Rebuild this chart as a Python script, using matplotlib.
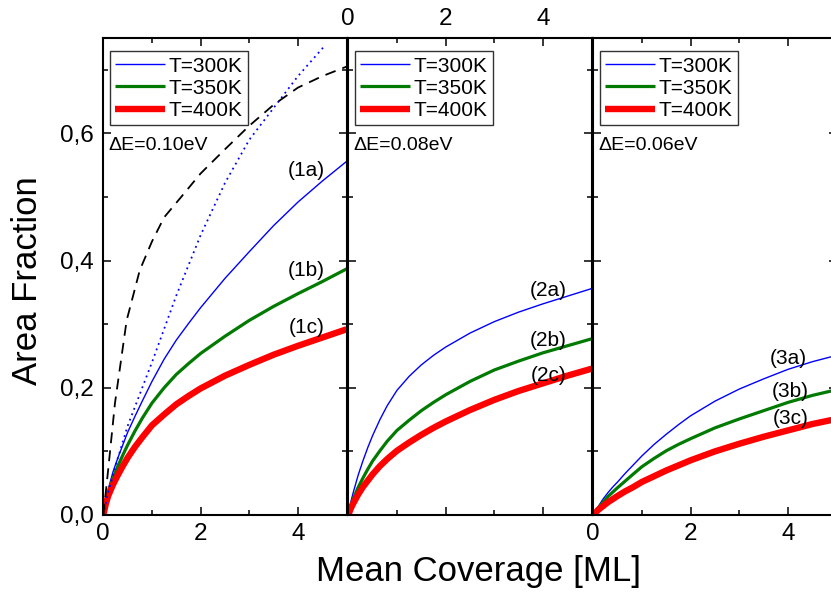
import matplotlib
matplotlib.use("Agg")
from matplotlib import pyplot as plt
from matplotlib.ticker import MultipleLocator, FuncFormatter, NullFormatter

plt.rcParams['font.family'] = ['Liberation Sans', 'DejaVu Sans']

# coverage grid [ML]
x = [0, 0.05, 0.1, 0.2, 0.3, 0.4, 0.5, 0.65, 0.8, 1, 1.25, 1.5, 1.75, 2, 2.5, 3, 3.5, 4, 4.5, 5]

# panel 1, dE = 0.10 eV
a1 = [0, 0.022, 0.04, 0.068, 0.09, 0.11, 0.13, 0.155, 0.179, 0.21, 0.245, 0.275, 0.301, 0.326,
      0.372, 0.414, 0.455, 0.492, 0.525, 0.556]
b1 = [0, 0.019, 0.035, 0.058, 0.077, 0.094, 0.11, 0.132, 0.152, 0.176, 0.2, 0.221, 0.238, 0.254,
      0.281, 0.306, 0.328, 0.348, 0.367, 0.387]
c1 = [0, 0.017, 0.03, 0.048, 0.063, 0.077, 0.09, 0.107, 0.122, 0.141, 0.158, 0.174, 0.187, 0.199,
      0.219, 0.236, 0.252, 0.266, 0.279, 0.292]
x_dot = [0, 0.05, 0.1, 0.25, 0.5, 0.75, 1, 1.5, 2, 2.5, 3, 3.5, 4, 4.53]
y_dot = [0, 0.018, 0.035, 0.077, 0.14, 0.19, 0.24, 0.345, 0.44, 0.522, 0.59, 0.64, 0.69, 0.736]
x_dash = [0, 0.05, 0.1, 0.24, 0.48, 0.75, 1.0, 1.25, 1.6, 2.0, 2.5, 3.0, 3.5, 4.0, 4.5, 5.0]
y_dash = [0, 0.035, 0.071, 0.176, 0.306, 0.385, 0.43, 0.468, 0.5, 0.537, 0.575, 0.612, 0.645,
          0.672, 0.69, 0.705]

# panel 2, dE = 0.08 eV
a2 = [0, 0.02, 0.035, 0.062, 0.085, 0.106, 0.125, 0.15, 0.172, 0.196, 0.218, 0.236, 0.251, 0.264,
      0.286, 0.304, 0.319, 0.332, 0.344, 0.356]
b2 = [0, 0.014, 0.025, 0.043, 0.058, 0.072, 0.085, 0.101, 0.116, 0.133, 0.149, 0.164, 0.177, 0.189,
      0.21, 0.228, 0.242, 0.255, 0.266, 0.277]
c2 = [0, 0.01, 0.018, 0.032, 0.044, 0.054, 0.064, 0.077, 0.088, 0.101, 0.114, 0.126, 0.137, 0.147,
      0.165, 0.181, 0.195, 0.207, 0.219, 0.230]

# panel 3, dE = 0.06 eV
a3 = [0, 0.007, 0.013, 0.025, 0.035, 0.044, 0.052, 0.065, 0.077, 0.093, 0.111, 0.127, 0.142, 0.156,
      0.179, 0.198, 0.214, 0.229, 0.241, 0.251]
b3 = [0, 0.006, 0.011, 0.02, 0.029, 0.036, 0.043, 0.053, 0.063, 0.076, 0.089, 0.101, 0.111, 0.12,
      0.137, 0.151, 0.164, 0.177, 0.188, 0.197]
c3 = [0, 0.004, 0.008, 0.014, 0.02, 0.025, 0.03, 0.037, 0.043, 0.052, 0.061, 0.07, 0.078, 0.086,
      0.1, 0.112, 0.123, 0.133, 0.143, 0.151]

temps = ["T=300K", "T=350K", "T=400K"]
energies = ["\u0394E=0.10eV", "\u0394E=0.08eV", "\u0394E=0.06eV"]
curve_labels = [["(1a)", "(1b)", "(1c)"], ["(2a)", "(2b)", "(2c)"], ["(3a)", "(3b)", "(3c)"]]
label_pos = [[(4.17, 0.542), (4.17, 0.385), (4.17, 0.295)],
             [(4.11, 0.353), (4.11, 0.275), (4.11, 0.220)],
             [(4.00, 0.246), (4.05, 0.194), (4.05, 0.152)]]
series = [(a1, b1, c1), (a2, b2, c2), (a3, b3, c3)]

colors = ["#0000ff", "#007a00", "#ff0000"]
widths = [1.0, 2.3, 4.6]

fig = plt.figure(figsize=(8.31, 5.92), dpi=100)
lefts = [103.3 / 831, 348.3 / 831, 593.3 / 831]
w = 243.3 / 831
b = 77 / 592
h = 477 / 592
comma = FuncFormatter(lambda v, p: f"{v:.1f}".replace('.', ','))

for i in range(3):
    ax = fig.add_axes([lefts[i], b, w, h])
    for ys, c, lw, t in zip(series[i], colors, widths, temps):
        ax.plot(x, ys, color=c, lw=lw, label=t, solid_capstyle='butt',
                solid_joinstyle='round')
    if i == 0:
        ax.plot(x_dot, y_dot, color="#0000ff", lw=1.3, ls=(0, (1, 2.2)))
        ax.plot(x_dash, y_dash, color="black", lw=1.3, ls=(0, (6, 4)))
    for lab, (lx, ly) in zip(curve_labels[i], label_pos[i]):
        ax.text(lx, ly, lab, fontsize=15, ha='center', va='center')
    ax.text(0.02, 0.775, energies[i], transform=ax.transAxes, fontsize=14,
            ha='left', va='center')
    ax.legend(loc='upper left', bbox_to_anchor=(0.0, 0.985), fontsize=15,
              frameon=True, fancybox=False, framealpha=1, edgecolor='#333333',
              handlelength=2.4, handletextpad=0.2, labelspacing=0.15,
              borderpad=0.25, borderaxespad=0.3)

    ax.set_xlim(0, 5)
    ax.set_ylim(0, 0.75)
    ax.xaxis.set_major_locator(MultipleLocator(2))
    ax.xaxis.set_minor_locator(MultipleLocator(1))
    ax.yaxis.set_major_locator(MultipleLocator(0.2))
    ax.yaxis.set_minor_locator(MultipleLocator(0.1))
    ax.tick_params(which='both', direction='in', top=True, right=True,
                   width=1.1, labelsize=17.5)
    ax.tick_params(which='major', length=6)
    ax.tick_params(which='minor', length=3.6)
    ax.tick_params(axis='x', pad=6)
    ax.tick_params(axis='y', pad=7)
    for s in ax.spines.values():
        s.set_linewidth(1.5)

    if i == 0:
        ax.yaxis.set_major_formatter(comma)
    else:
        ax.yaxis.set_major_formatter(NullFormatter())
    if i == 1:
        ax.tick_params(axis='x', labelbottom=False, labeltop=True)

fig.text(478 / 831, 20 / 592, "Mean Coverage [ML]", fontsize=25,
         ha='center', va='center')
fig.text(28 / 831, 311 / 592, "Area Fraction", fontsize=25, rotation=90,
         ha='center', va='center')

fig.savefig("out.png", dpi=100)
